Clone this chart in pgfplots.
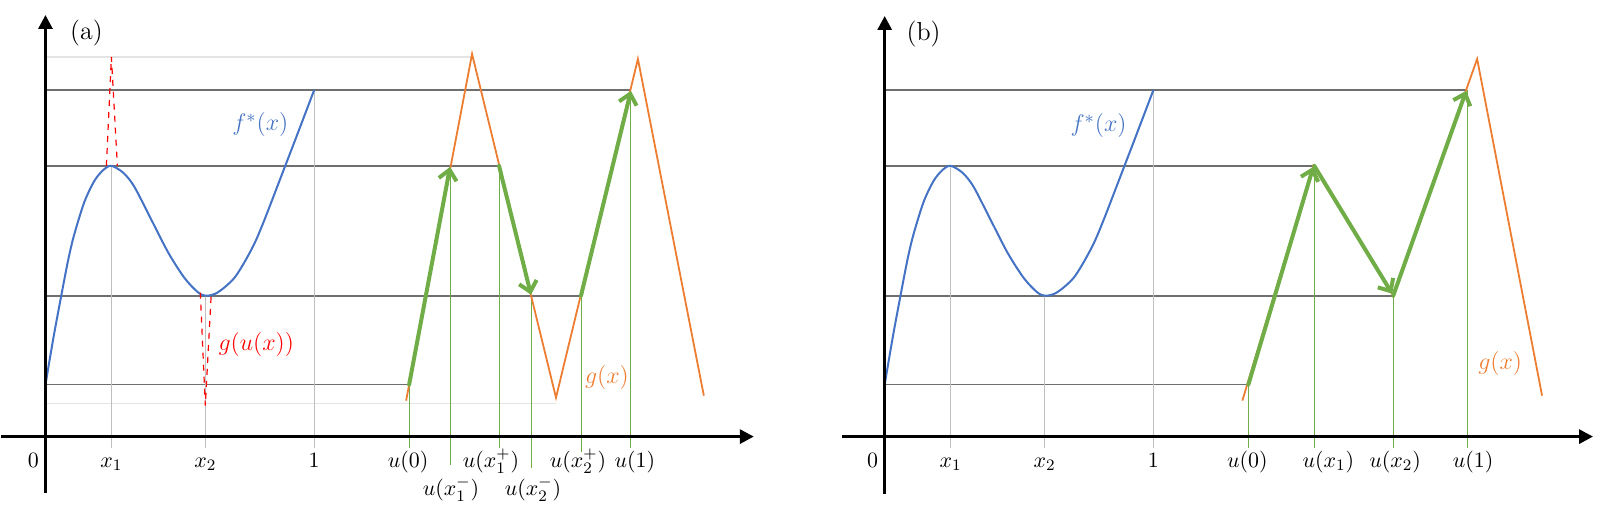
\documentclass[border=0pt]{standalone}
\usepackage{pgfplots}
\pgfplotsset{compat=1.18}
\usetikzlibrary{arrows.meta}

\definecolor{fblue}{HTML}{4472C4}
\definecolor{gorange}{HTML}{ED7D31}
\definecolor{ugreen}{HTML}{70AD47}
\definecolor{hgray}{HTML}{6F6F6F}
\definecolor{vgray}{HTML}{BFBFBF}
\definecolor{lgray}{HTML}{E4E4E4}

% the curve f*(x) (same in both panels)
\pgfplotstableread{
X Y
0 52
8 99
16 142
23 178
29 203
39 235
49 256
58 267
66 271
78 264
89 250
106 217
123 184
139 159
152 145
160 141
170 143
180 150
190 160
200 176
210 195
220 219
235 258
250 297
269 347
}\fcurve

\begin{document}
\begin{tikzpicture}
\pgfplotsset{
  panel/.style={scale only axis, width=402pt, height=255pt,
    ymin=-73, ymax=437, axis lines=none, clip=false, anchor=south west,
    every axis plot/.append style={no markers}},
  hl/.style={hgray, line width=0.8pt},
  vl/.style={vgray, line width=0.45pt},
  ul/.style={ugreen, line width=0.45pt},
  garrow/.style={ugreen, line width=2pt, line cap=round,
    -{Straight Barb[length=5pt,width=9pt,line width=2pt]}},
  gline/.style={gorange, line width=0.9pt},
}
\tikzset{
  axarrow/.style={black, line width=1.5pt, -{Triangle[length=7pt,width=7pt]}},
  tlab/.style={anchor=base, font=\fontsize{11}{13}\selectfont, inner sep=1pt},
  big/.style={font=\fontsize{13}{15}\selectfont},
}

% ---------------- (a) ----------------
\begin{axis}[panel, at={(0,0)}, xmin=-44, xmax=760]
\addplot[draw=none] coordinates {(-44,-73)(760,437)};
% light guide lines
\addplot[lgray, line width=0.8pt] coordinates {(0,380)(427,380)};
\addplot[lgray, line width=0.8pt] coordinates {(0,33)(511,33)};
% levels
\addplot[hl] coordinates {(0,347)(586,347)};
\addplot[hl] coordinates {(0,271)(454,271)};
\addplot[hl] coordinates {(0,141)(536,141)};
\addplot[hl] coordinates {(0,52)(364,52)};
% gray verticals
\addplot[vl] coordinates {(66,271)(66,-11)};
\addplot[vl] coordinates {(160,141)(160,-11)};
\addplot[vl] coordinates {(269,347)(269,-11)};
% green verticals
\addplot[ul] coordinates {(364,52)(364,-11)};
\addplot[ul] coordinates {(405,271)(405,-28)};
\addplot[ul] coordinates {(454,271)(454,-11)};
\addplot[ul] coordinates {(486,141)(486,-31)};
\addplot[ul] coordinates {(536,141)(536,-15)};
\addplot[ul] coordinates {(586,347)(586,-11)};
% g(x)
\addplot[gline] coordinates {(361,36)(427,383)(511,39)(593,378)(659,41)};
% f*(x)
\addplot[fblue, line width=1pt, smooth] table[x=X,y=Y] {\fcurve};
% g(u(x)) dashed
\addplot[red, line width=0.6pt, dashed] coordinates {(61,271)(66,380)(72,271)};
\addplot[red, line width=0.6pt, dashed] coordinates {(155,144)(160,31)(166,144)};
% green arrows
\addplot[garrow] coordinates {(364,52)(405,270)};
\addplot[garrow] coordinates {(454,271)(486,142)};
\addplot[garrow] coordinates {(536,141)(586,346)};
% axes
\addplot[axarrow] coordinates {(0,-56)(0,422)};
\addplot[axarrow] coordinates {(-44,0)(709,0)};
% texts
\node[big] at (axis cs:41,404) {(a)};
\node[big, fblue] at (axis cs:215,312) {$f^{*}(x)$};
\node[big, red] at (axis cs:211,92) {$g(u(x))$};
\node[big, gorange] at (axis cs:562,59) {$g(x)$};
\node[tlab] at (axis cs:-12,-31) {$0$};
\node[tlab] at (axis cs:66,-31) {$x_1$};
\node[tlab] at (axis cs:160,-31) {$x_2$};
\node[tlab] at (axis cs:269,-31) {$1$};
\node[tlab] at (axis cs:363,-31) {$u(0)$};
\node[tlab] at (axis cs:406,-59) {$u(x_1^-)$};
\node[tlab] at (axis cs:446,-31) {$u(x_1^+)$};
\node[tlab] at (axis cs:488,-59) {$u(x_2^-)$};
\node[tlab] at (axis cs:533,-31) {$u(x_2^+)$};
\node[tlab] at (axis cs:590,-31) {$u(1)$};
\end{axis}

% ---------------- (b) ----------------
\begin{axis}[panel, at={(402pt,0)}, xmin=-80, xmax=724]
\addplot[draw=none] coordinates {(-80,-73)(724,437)};
% levels
\addplot[hl] coordinates {(0,347)(583,347)};
\addplot[hl] coordinates {(0,271)(430,271)};
\addplot[hl] coordinates {(0,141)(509,141)};
\addplot[hl] coordinates {(0,52)(364,52)};
% gray verticals
\addplot[vl] coordinates {(66,271)(66,-11)};
\addplot[vl] coordinates {(160,141)(160,-11)};
\addplot[vl] coordinates {(269,347)(269,-11)};
% green verticals
\addplot[ul] coordinates {(364,52)(364,-11)};
\addplot[ul] coordinates {(430,271)(430,-11)};
\addplot[ul] coordinates {(509,141)(509,-11)};
\addplot[ul] coordinates {(583,347)(583,-11)};
% g(x)
\addplot[gline] coordinates {(358,36)(429,271)(509,141)(593,378)(658,41)};
% f*(x)
\addplot[fblue, line width=1pt, smooth] table[x=X,y=Y] {\fcurve};
% green arrows
\addplot[garrow] coordinates {(364,52)(429,270)};
\addplot[garrow] coordinates {(430,271)(508,143)};
\addplot[garrow] coordinates {(509,141)(582,346)};
% axes
\addplot[axarrow] coordinates {(0,-57)(0,421)};
\addplot[axarrow] coordinates {(-43,0)(709,0)};
% texts
\node[big] at (axis cs:39,403) {(b)};
\node[big, fblue] at (axis cs:214,311) {$f^{*}(x)$};
\node[big, gorange] at (axis cs:616,73) {$g(x)$};
\node[tlab] at (axis cs:-12,-31) {$0$};
\node[tlab] at (axis cs:66,-31) {$x_1$};
\node[tlab] at (axis cs:160,-31) {$x_2$};
\node[tlab] at (axis cs:269,-31) {$1$};
\node[tlab] at (axis cs:363,-31) {$u(0)$};
\node[tlab] at (axis cs:444,-31) {$u(x_1)$};
\node[tlab] at (axis cs:511,-31) {$u(x_2)$};
\node[tlab] at (axis cs:589,-31) {$u(1)$};
\end{axis}
\end{tikzpicture}
\end{document}
